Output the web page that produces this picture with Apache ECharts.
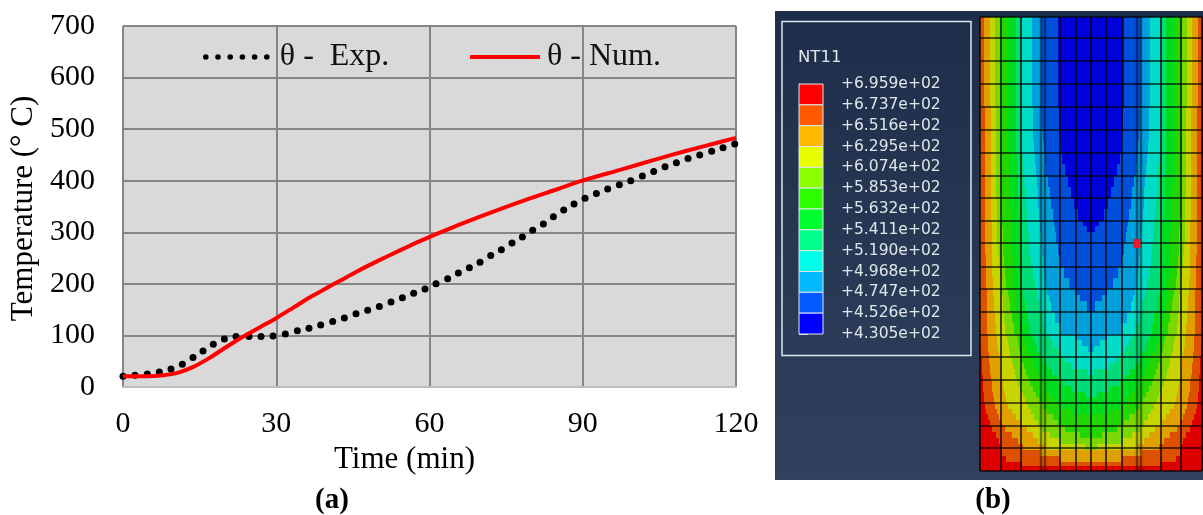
<!DOCTYPE html>
<html>
<head>
<meta charset="utf-8">
<style>html,body{margin:0;padding:0;background:#fff}#c{width:1203px;height:515px}</style>
<script src="https://cdn.jsdelivr.net/npm/echarts@6/dist/echarts.min.js"></script>
</head>
<body>
<div id="c"></div>
<script>
const expTime = [0,2.35,4.76,7.11,9.40,11.62,13.70,15.66,17.68,19.84,22.12,24.67,27.02,29.37,31.78,34.13,36.41,38.70,41.05,43.33,45.61,47.90,50.18,52.47,54.69,56.90,59.12,61.28,63.56,65.65,67.80,69.89,71.98,74.07,76.15,78.18,80.20,82.29,84.25,86.27,88.29,90.45,92.67,94.88,97.17,99.39,101.67,103.89,106.11,108.33,110.61,112.90,115.24,117.46,119.75];
const expTemp = [21,23,25,29,35,44,57,70,83,93,98,98,98,99,103,109,114,120,127,134,142,149,156,165,173,182,190,200,210,221,231,242,255,266,279,291,304,316,330,343,355,366,375,384,392,400,409,418,427,435,443,450,457,464,471];
const numTime = [0,4.63,7.90,10.83,13.77,17.03,20.30,23.56,26.82,29.89,33.35,36.61,39.87,42.48,46,50,54,58.14,64.67,71.19,77.72,84.25,89.92,97.30,103.82,110.35,116.87,120];
const numTemp = [21,21,23,28,39,57,78,98,116,133,154,174,192,206,225,245,264,283,310,335,359,381,400,421,440,458,475,483];
const xTicks = [0,30,60,90,120];
const yTicks = [0,100,200,300,400,500,600,700];
const seriesNames = ['θ -  Exp.','θ - Num.'];

const legendTitle = 'NT11';
const legendLabels = ['+6.959e+02','+6.737e+02','+6.516e+02','+6.295e+02','+6.074e+02','+5.853e+02','+5.632e+02','+5.411e+02','+5.190e+02','+4.968e+02','+4.747e+02','+4.526e+02','+4.305e+02'];
const legendColors = ['#ff0000','#ff5a00','#ffb900','#e8ff00','#8bff00','#2eff00','#00ff2e','#00ff8b','#00ffe8','#00b9ff','#005aff','#0000ff'];
const contourColors = ['#dc0000','#dc5000','#e0a000','#c8d400','#78d800','#20d800','#00dc20','#00dc78','#00dcc8','#00a0dc','#0050dc','#0000dc'];

const contourRowY = [0,90,113,124,136,147,159,170,181,192,204,209,215,226,238,250,261,272,278,284,295,306,318,323,329,335,340,346,352,358,363,369,375,380,386,392,397,403,409,415,421,427,433,439,445,449,454];
const contourEdges = [
 [0,4,10,15,20,28,36,41,52,61,78],
 [0,5,11,16,20,28,36,41,53,62,79],
 [0,5,11,16,20,28,36,41,53,63,80],
 [0,5,11,16,20,28,36,42,54,64,81],
 [0,5,11,16,20,29,37,43,55,65,82],
 [0,5,11,16,21,29,37,44,56,66,85],
 [0,5,11,16,21,29,38,44,57,68,88],
 [0,5,11,16,21,30,38,45,58,70,91],
 [0,5,11,17,22,30,39,46,58,71,94],
 [0,5,11,17,22,31,39,47,59,73,98],
 [0,5,12,17,22,31,40,48,60,74,103],
 [0,5,12,17,23,31,40,48,60,75,107],
 [0,5,12,17,23,32,40,49,61,76,111],
 [0,5,12,18,23,32,40,50,62,78,111],
 [0,6,12,19,24,33,41,51,63,80,111],
 [0,6,12,20,25,33,42,53,64,84,111],
 [0,6,13,21,26,34,42,55,65,89,111],
 [0,7,13,22,28,35,43,57,67,95,111],
 [0,7,14,23,29,35,44,58,69,100,111],
 [0,7,14,23,30,36,45,60,71,107,111],
 [0,7,15,24,32,38,48,63,75,111],
 [0,7,16,25,34,40,50,66,81,111],
 [0,8,17,27,37,43,53,70,95,111],
 [0,8,17,28,38,45,55,73,102,111],
 [1,8,18,29,39,47,57,77,108,111],
 [1,9,19,30,41,50,60,81,111],
 [2,9,20,32,42,52,63,85,111],
 [2,10,20,33,44,54,67,92,111],
 [2,10,21,35,46,57,72,108,111],
 [3,11,22,36,48,60,77,111],
 [3,12,23,38,50,63,83,111],
 [3,12,24,40,53,66,92,111],
 [4,13,25,43,56,70,105,111],
 [4,14,26,45,59,74,111],
 [5,15,28,48,63,80,111],
 [6,17,32,51,67,92,111],
 [8,19,36,54,73,111],
 [10,22,41,58,78,111],
 [12,25,47,62,85,111],
 [16,32,53,70,100,111],
 [19,38,58,80,111],
 [21,43,65,105,111],
 [22,60,111],
 [26,80,111],
 [42,111],
 [111]
];
const meshX = [0,21,41,80,96,111,126,142,181,201,222];
const meshXFaint = [61,65,157,161];
const meshY = [0,21,44,67,90,113,136,159,181,204,226,250,272,295,318,340,363,386,409,431,454];
const probePoint = [157,226.5];

const serif = '"Liberation Serif","Times New Roman",serif';

function rectsFromEdges(){
  const out = [];
  contourEdges.forEach((edges,r)=>{
    const y0 = contourRowY[r], y1 = contourRowY[r+1];
    let prev = 0;
    edges.forEach((e,b)=>{
      if(e>prev){ out.push([prev,e,y0,y1,b]); out.push([222-e,222-prev,y0,y1,b]); prev=e; }
    });
    if(prev<111){ out.push([prev,222-prev,y0,y1,11]); }
  });
  return out;
}
function meshSegments(){
  const out = [];
  meshX.forEach(x=>out.push([x,0,x,454,0.85]));
  meshXFaint.forEach(x=>out.push([x,0,x,454,0.45]));
  meshY.forEach(y=>out.push([0,y,222,y,0.82]));
  return out;
}
const dotIconPath = 'path://' + [0,1,2,3,4,5].map(i=>{
  const cx = 2.8+i*12.2;
  return 'M'+(cx-2.8)+' 2.8a2.8 2.8 0 1 0 5.6 0a2.8 2.8 0 1 0 -5.6 0z';
}).join('');

const chart = echarts.init(document.getElementById('c'),null,{renderer:'canvas'});
chart.setOption({
  animation:false,
  backgroundColor:'#ffffff',
  textStyle:{fontFamily:serif},
  legend:[
    {left:203,top:41,padding:0,orient:'horizontal',itemWidth:67,itemHeight:5.6,
     data:[{name:seriesNames[0],icon:dotIconPath,itemStyle:{color:'#000',opacity:1}}],
     textStyle:{fontFamily:serif,fontSize:32,color:'#111',padding:[7,0,0,5]},selectedMode:false},
    {left:470,top:41,padding:0,orient:'horizontal',itemWidth:70,itemHeight:4,
     data:[{name:seriesNames[1],icon:'roundRect'}],
     textStyle:{fontFamily:serif,fontSize:32,color:'#111',padding:[7,0,0,2]},selectedMode:false}
  ],
  grid:[
    {left:123,top:26,width:613,height:361,show:true,backgroundColor:'#d9d9d9',borderColor:'#bdbdbd',borderWidth:1},
    {left:980,top:17,width:222,height:454,show:false},
    {left:799,top:84,width:24,height:250,show:false}
  ],
  xAxis:[
    {gridIndex:0,type:'value',min:0,max:120,interval:30,
     name:'Time (min)',nameLocation:'middle',nameGap:52,
     nameTextStyle:{fontFamily:serif,fontSize:31,color:'#000',padding:[0,50,0,0]},
     axisLine:{show:true,lineStyle:{color:'#bdbdbd',width:2}},axisTick:{show:false},
     axisLabel:{fontFamily:serif,fontSize:30,color:'#000',margin:22},
     splitLine:{show:true,lineStyle:{color:'#868686',width:2}}},
    {gridIndex:1,type:'value',min:0,max:222,show:false,splitLine:{show:false}},
    {gridIndex:2,type:'value',min:0,max:1,show:false,splitLine:{show:false}}
  ],
  yAxis:[
    {gridIndex:0,type:'value',min:0,max:700,interval:100,
     name:'Temperature (° C)',nameLocation:'middle',nameGap:78,nameRotate:90,
     nameTextStyle:{fontFamily:serif,fontSize:31,color:'#000',padding:[0,0,0,-4]},
     axisLine:{show:false},axisTick:{show:false},
     axisLabel:{fontFamily:serif,fontSize:30,color:'#000',margin:28,formatter:v=>yTicks.includes(v)?String(v):''},
     splitLine:{show:true,lineStyle:{color:'#868686',width:2}}},
    {gridIndex:1,type:'value',min:0,max:454,inverse:true,show:false,splitLine:{show:false}},
    {gridIndex:2,type:'value',min:0,max:12,interval:1,inverse:true,position:'right',
     axisLine:{show:true,lineStyle:{color:'#dfe6ea',width:1}},
     axisTick:{show:true,length:9,lineStyle:{color:'#dfe6ea',width:1}},
     axisLabel:{fontFamily:'"DejaVu Sans",sans-serif',fontSize:15.5,color:'#dfe6ea',margin:18,padding:[9,0,0,0],
       formatter:v=>legendLabels[v],showMinLabel:true,showMaxLabel:true},
     splitLine:{show:false}}
  ],
  series:[
    {name:seriesNames[0],type:'scatter',xAxisIndex:0,yAxisIndex:0,symbol:'circle',symbolSize:7,
     itemStyle:{color:'#000',opacity:1},z:3,clip:true,data:expTime.map((t,i)=>[t,expTemp[i]])},
    {name:seriesNames[1],type:'line',xAxisIndex:0,yAxisIndex:0,smooth:0.25,showSymbol:false,
     lineStyle:{color:'#ff0000',width:4},itemStyle:{color:'#ff0000'},z:4,clip:true,data:numTime.map((t,i)=>[t,numTemp[i]])},
    {name:'contour',type:'custom',xAxisIndex:1,yAxisIndex:1,z:2,silent:true,clip:false,
     encode:{x:[0,1],y:[2,3]},
     renderItem:(p,api)=>{
       const a=api.coord([api.value(0),api.value(2)]),b=api.coord([api.value(1),api.value(3)]);
       return {type:'rect',shape:{x:Math.round(a[0]),y:Math.round(a[1]),width:Math.round(b[0])-Math.round(a[0]),height:Math.round(b[1])-Math.round(a[1])},
         style:{fill:contourColors[api.value(4)]}};
     },data:rectsFromEdges()},
    {name:'mesh',type:'custom',xAxisIndex:1,yAxisIndex:1,z:3,silent:true,clip:false,
     encode:{x:[0,2],y:[1,3]},
     renderItem:(p,api)=>{
       const a=api.coord([api.value(0),api.value(1)]),b=api.coord([api.value(2),api.value(3)]);
       return {type:'line',shape:{x1:a[0],y1:a[1],x2:b[0],y2:b[1]},
         style:{stroke:'rgba(0,0,0,'+api.value(4)+')',lineWidth:api.value(4)<0.6?2.4:1.6}};
     },data:meshSegments()},
    {name:'probe',type:'scatter',xAxisIndex:1,yAxisIndex:1,z:5,silent:true,symbol:'rect',symbolSize:[7,9],
     itemStyle:{color:'#e8192c',opacity:1},data:[probePoint]},
    {name:'scale',type:'custom',xAxisIndex:2,yAxisIndex:2,z:3,silent:true,clip:false,
     encode:{x:[0,1],y:[2,3]},
     renderItem:(p,api)=>{
       const a=api.coord([0,api.value(2)]),b=api.coord([1,api.value(3)]);
       return {type:'rect',shape:{x:a[0],y:a[1],width:b[0]-a[0],height:b[1]-a[1]},
         style:{fill:legendColors[api.value(2)],stroke:'#dfe6ea',lineWidth:1}};
     },data:legendColors.map((c,i)=>[0,1,i,i+1])}
  ],
  graphic:[
    {type:'rect',z:-10,silent:true,shape:{x:775,y:11,width:428,height:469},
     style:{fill:new echarts.graphic.LinearGradient(0,0,0,1,[{offset:0,color:'#1e2e4a'},{offset:1,color:'#2f415d'}])}},
    {type:'rect',z:-9,silent:true,shape:{x:782,y:21.5,width:189,height:334},
     style:{fill:'rgba(0,0,0,0)',stroke:'#dfe6ea',lineWidth:1.5}},
    {type:'text',z:1,silent:true,x:798,y:49,style:{text:legendTitle,fill:'#dfe6ea',font:'16.5px "DejaVu Sans",sans-serif'}},
    {type:'text',z:1,silent:true,x:332,y:501,style:{text:'(a)',fill:'#000',font:'bold 29px '+serif,align:'center',verticalAlign:'middle'}},
    {type:'text',z:1,silent:true,x:993,y:501,style:{text:'(b)',fill:'#000',font:'bold 29px '+serif,align:'center',verticalAlign:'middle'}}
  ]
});
</script>
</body>
</html>
